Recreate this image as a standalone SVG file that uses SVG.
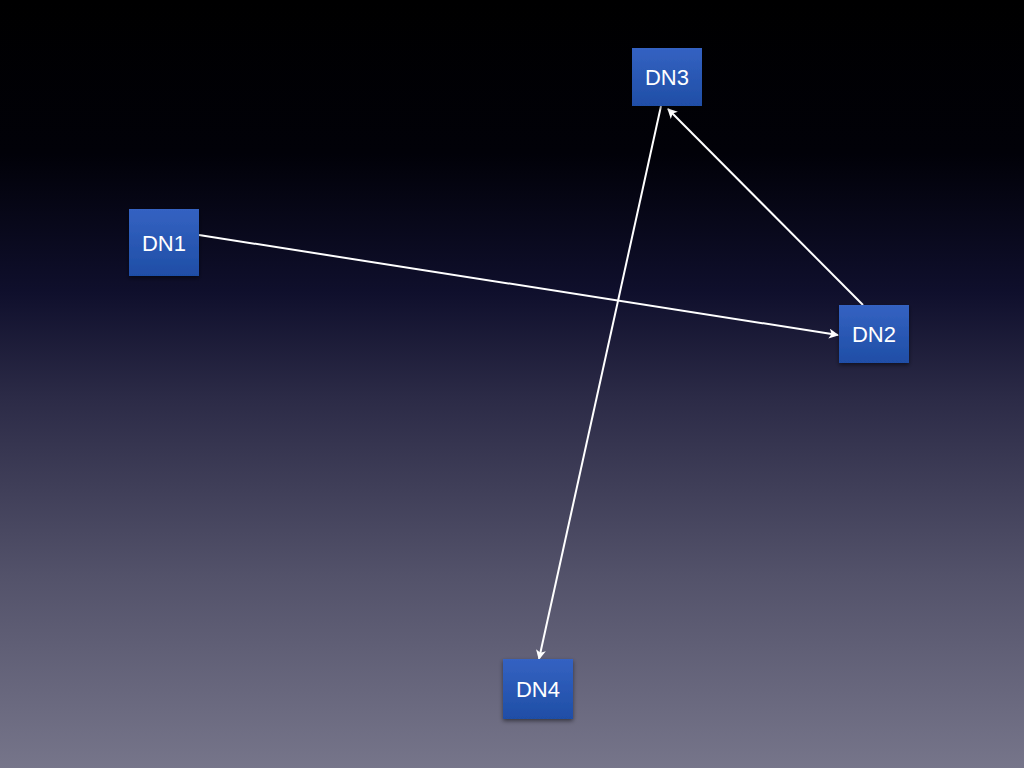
<svg xmlns="http://www.w3.org/2000/svg" width="1024" height="768" viewBox="0 0 1024 768">
<defs>
<linearGradient id="bg" x1="0" y1="0" x2="0" y2="1">
<stop offset="0" stop-color="#000000"/>
<stop offset="0.2" stop-color="#010108"/>
<stop offset="0.38" stop-color="#0f0f2c"/>
<stop offset="0.52" stop-color="#2c2b47"/>
<stop offset="0.75" stop-color="#53526a"/>
<stop offset="1" stop-color="#76758a"/>
</linearGradient>
<linearGradient id="box" x1="0" y1="0" x2="0" y2="1">
<stop offset="0" stop-color="#3462c2"/>
<stop offset="1" stop-color="#1f4ea6"/>
</linearGradient>
<filter id="sh" x="-20%" y="-20%" width="140%" height="150%">
<feDropShadow dx="0" dy="2" stdDeviation="2" flood-color="#000" flood-opacity="0.5"/>
</filter>
<marker id="arr" viewBox="0 0 10 10" refX="9" refY="5" markerWidth="10" markerHeight="10" markerUnits="userSpaceOnUse" orient="auto">
<path d="M0,0 L10,5 L0,10 L2.5,5 Z" fill="#ffffff"/>
</marker>
<style>
.node rect{fill:url(#box);filter:url(#sh);}
.node text{fill:#ffffff;font-family:"Liberation Sans",Arial,sans-serif;font-size:22px;text-anchor:middle;dominant-baseline:central;}
.edge{stroke:#ffffff;stroke-width:2;fill:none;marker-end:url(#arr);}
</style>
</defs>
<rect width="1024" height="768" fill="url(#bg)"/>
<g id="connectors">
<line class="edge" x1="199" y1="235" x2="838" y2="335"/>
<line class="edge" x1="863" y1="305" x2="668" y2="109"/>
<line class="edge" x1="661" y1="106" x2="539" y2="659"/>
</g>
<g id="DN1" class="node"><rect x="129" y="209" width="70" height="67"/><text x="164" y="243">DN1</text></g>
<g id="DN2" class="node"><rect x="839" y="305" width="70" height="58"/><text x="874" y="334">DN2</text></g>
<g id="DN3" class="node"><rect x="632" y="48" width="70" height="58"/><text x="667" y="77">DN3</text></g>
<g id="DN4" class="node"><rect x="503" y="659" width="70" height="60"/><text x="538" y="689">DN4</text></g>
</svg>
